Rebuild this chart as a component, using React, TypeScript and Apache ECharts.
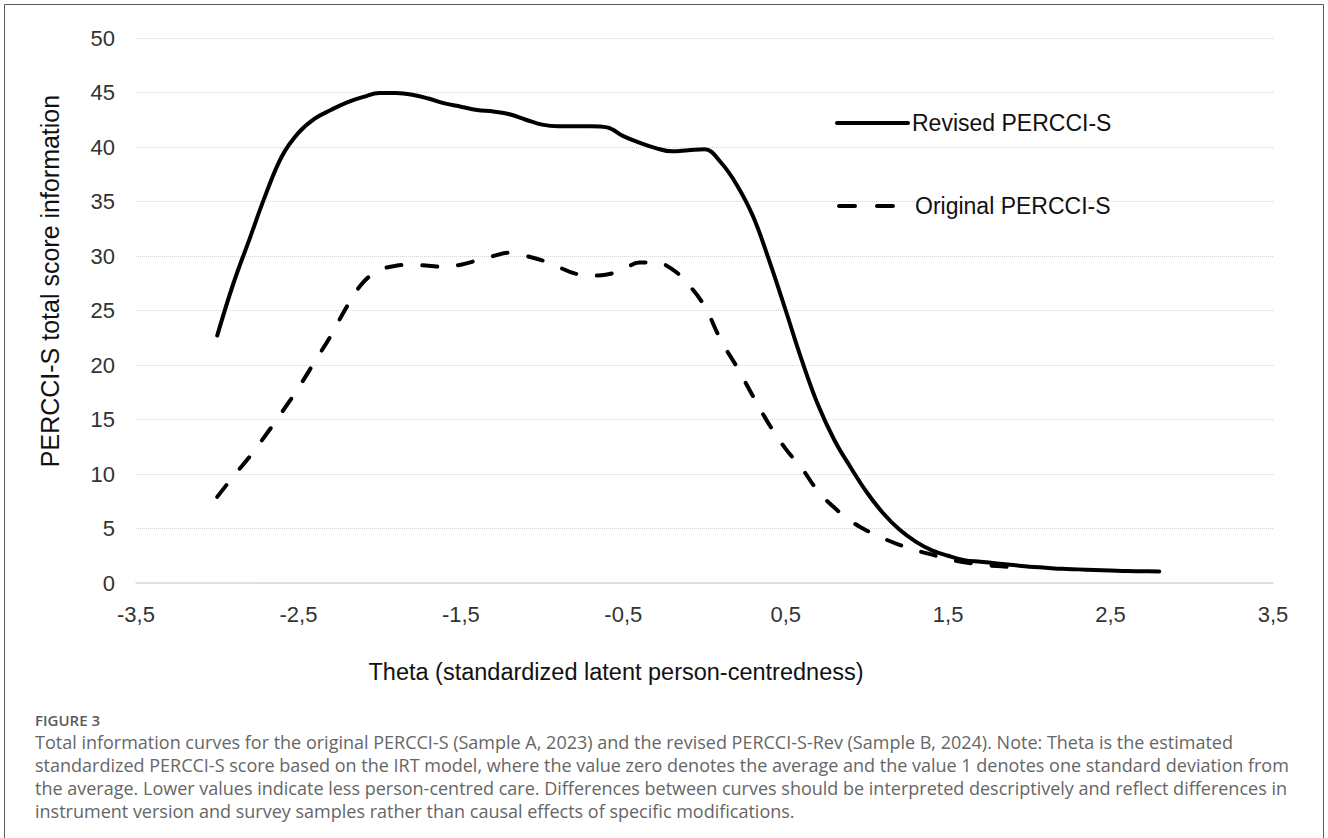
import React, { useEffect, useRef } from "react";
import * as echarts from "echarts";

const thetaRevised = [
  -3.0, -2.9, -2.8, -2.7, -2.6, -2.5, -2.4, -2.3, -2.2, -2.1, -2.0, -1.9, -1.8, -1.7, -1.6, -1.5,
  -1.4, -1.3, -1.2, -1.1, -1.0, -0.9, -0.8, -0.7, -0.6, -0.5, -0.4, -0.3, -0.2, -0.1, 0.0, 0.1,
  0.2, 0.3, 0.4, 0.5, 0.6, 0.7, 0.8, 0.9, 1.0, 1.1, 1.2, 1.3, 1.4, 1.5, 1.6, 1.7, 1.8, 1.9, 2.0,
  2.1, 2.2, 2.3, 2.4, 2.5, 2.6, 2.7, 2.8,
];
const revisedInfo = [
  22.7, 27.5, 31.6, 35.7, 39.2, 41.3, 42.6, 43.4, 44.1, 44.6, 44.95, 44.95, 44.8, 44.45, 44.0, 43.7,
  43.4, 43.25, 43.0, 42.5, 42.05, 41.9, 41.9, 41.9, 41.8, 41.0, 40.4, 39.9, 39.6, 39.7, 39.8, 38.6,
  36.5, 33.6, 29.5, 25.0, 20.4, 16.3, 13.1, 10.6, 8.3, 6.4, 4.9, 3.8, 3.0, 2.5, 2.1, 1.95, 1.8, 1.65, 1.5,
  1.4, 1.3, 1.25, 1.2, 1.15, 1.1, 1.08, 1.05,
];
const thetaOriginal = [
  -3.0, -2.9, -2.8, -2.7, -2.6, -2.5, -2.4, -2.3, -2.2, -2.1, -2.0, -1.9, -1.8, -1.7, -1.6, -1.5,
  -1.4, -1.3, -1.2, -1.1, -1.0, -0.9, -0.8, -0.7, -0.6, -0.5, -0.4, -0.3, -0.2, -0.1, 0.0, 0.1,
  0.2, 0.3, 0.4, 0.5, 0.6, 0.7, 0.8, 0.9, 1.0, 1.1, 1.2, 1.3, 1.4, 1.5, 1.6, 1.7, 1.8, 1.9,
];
const originalInfo = [
  7.9, 9.8, 11.6, 13.6, 15.7, 17.9, 20.3, 22.7, 25.4, 27.6, 28.7, 29.1, 29.2, 29.1, 29.0, 29.2,
  29.6, 30.0, 30.3, 30.0, 29.6, 29.0, 28.4, 28.2, 28.3, 28.8, 29.4, 29.4, 28.8, 27.4, 25.4, 22.3,
  19.8, 17.1, 14.5, 12.3, 10.5, 8.4, 6.9, 5.7, 4.8, 4.1, 3.5, 3.0, 2.6, 2.2, 1.9, 1.7, 1.55, 1.45,
];

const seriesNames = ["Revised PERCCI-S", "Original PERCCI-S"];
const yAxisTitle = "PERCCI-S total score information";
const xAxisTitle = "Theta (standardized latent person-centredness)";
const figureLabel = "FIGURE 3";
const captionLines = [
  "Total information curves for the original PERCCI-S (Sample A, 2023) and the revised PERCCI-S-Rev (Sample B, 2024). Note: Theta is the estimated",
  "standardized PERCCI-S score based on the IRT model, where the value zero denotes the average and the value 1 denotes one standard deviation from",
  "the average. Lower values indicate less person-centred care. Differences between curves should be interpreted descriptively and reflect differences in",
  "instrument version and survey samples rather than causal effects of specific modifications.",
];

const sansFont = '"Liberation Sans", Arial, sans-serif';
const captionFont = '"Open Sans", "Noto Sans", sans-serif';

export default function App() {
  const ref = useRef<HTMLDivElement>(null);

  useEffect(() => {
    if (!ref.current) return;
    const chart = echarts.init(ref.current, undefined, { renderer: "svg" });

    const revisedData = thetaRevised.map((t, i) => [t, revisedInfo[i]]);
    const originalData = thetaOriginal.map((t, i) => [t, originalInfo[i]]);

    const captionGraphics = captionLines.map((line, i) => ({
      type: "text",
      x: 35,
      y: 742 + i * 23,
      z: 100,
      style: {
        text: line,
        fontFamily: captionFont,
        fontSize: 18,
        fill: "#666666",
        verticalAlign: "middle",
      },
    }));

    chart.setOption({
      animation: false,
      backgroundColor: "#ffffff",
      grid: { left: 136, right: 55, top: 38, bottom: 255, containLabel: false },
      xAxis: {
        type: "value",
        min: -3.5,
        max: 3.5,
        interval: 0.5,
        axisLine: { show: true, lineStyle: { color: "#d9d9d9", width: 1.5 } },
        axisTick: { show: false },
        splitLine: { show: false },
        axisLabel: {
          margin: 20,
          fontSize: 22,
          fontFamily: sansFont,
          color: "#333333",
          formatter: (v: number) => {
            const twice = Math.round(v * 2);
            if (Math.abs(twice) % 2 !== 1) return "";
            return v.toFixed(1).replace(".", ",");
          },
        },
      },
      yAxis: {
        type: "value",
        min: 0,
        max: 50,
        interval: 5,
        axisLine: { show: false },
        axisTick: { show: false },
        splitLine: { show: true, lineStyle: { color: "#d4d4d4", type: "dotted", width: 1 } },
        axisLabel: {
          margin: 21,
          fontSize: 22,
          fontFamily: sansFont,
          color: "#333333",
        },
      },
      series: [
        {
          name: seriesNames[0],
          type: "line",
          data: revisedData,
          smooth: 0.4,
          symbol: "none",
          lineStyle: { color: "#000000", width: 4, cap: "round" },
          z: 3,
        },
        {
          name: seriesNames[1],
          type: "line",
          data: originalData,
          smooth: 0.4,
          symbol: "none",
          lineStyle: { color: "#000000", width: 4, type: [15, 21], cap: "round" },
          z: 2,
        },
      ],
      graphic: [
        {
          type: "rect",
          shape: { x: 4.5, y: 4.5, width: 1319, height: 900 },
          style: { fill: "none", stroke: "#5a5a5a", lineWidth: 1 },
          z: 50,
          silent: true,
        },
        {
          type: "line",
          shape: { x1: 837, y1: 123, x2: 908, y2: 123 },
          style: { stroke: "#000000", lineWidth: 4, lineCap: "round" },
          z: 100,
        },
        {
          type: "text",
          x: 912,
          y: 123,
          z: 100,
          style: {
            text: seriesNames[0],
            fontFamily: sansFont,
            fontSize: 23,
            fill: "#111111",
            verticalAlign: "middle",
          },
        },
        {
          type: "line",
          shape: { x1: 839, y1: 206, x2: 893, y2: 206 },
          style: { stroke: "#000000", lineWidth: 4, lineCap: "round", lineDash: [16, 22] },
          z: 100,
        },
        {
          type: "text",
          x: 915,
          y: 206,
          z: 100,
          style: {
            text: seriesNames[1],
            fontFamily: sansFont,
            fontSize: 23,
            fill: "#111111",
            verticalAlign: "middle",
          },
        },
        {
          type: "text",
          x: 50,
          y: 281,
          rotation: Math.PI / 2,
          z: 100,
          style: {
            text: yAxisTitle,
            fontFamily: sansFont,
            fontSize: 25,
            fill: "#111111",
            align: "center",
            verticalAlign: "middle",
          },
        },
        {
          type: "text",
          x: 616,
          y: 672,
          z: 100,
          style: {
            text: xAxisTitle,
            fontFamily: sansFont,
            fontSize: 23.5,
            fill: "#111111",
            align: "center",
            verticalAlign: "middle",
          },
        },
        {
          type: "text",
          x: 35,
          y: 720,
          z: 100,
          style: {
            text: figureLabel,
            fontFamily: captionFont,
            fontSize: 15,
            fontWeight: 600,
            fill: "#5a5a5a",
            verticalAlign: "middle",
          },
        },
        ...captionGraphics,
      ],
    });

    return () => chart.dispose();
  }, []);

  return (
    <div
      ref={ref}
      style={{ position: "fixed", left: 0, top: 0, width: 1328, height: 838, background: "#fff" }}
    />
  );
}
